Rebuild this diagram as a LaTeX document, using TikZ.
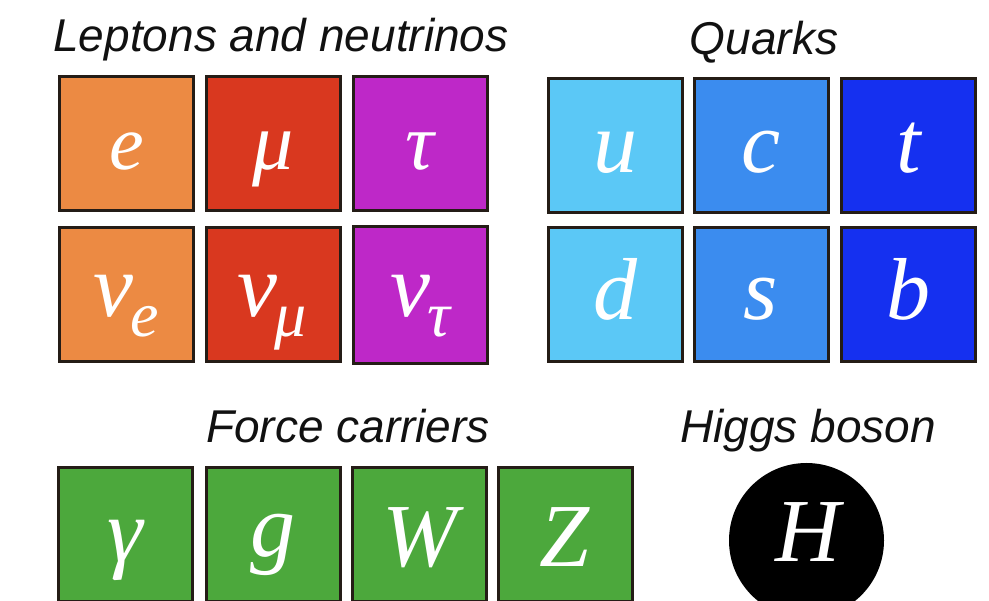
\documentclass[tikz,border=0pt]{standalone}
\usepackage{fontspec}
\setsansfont{Liberation Sans}
\newfontfamily\symfont{Liberation Serif}
\definecolor{edge}{HTML}{241C16}
\definecolor{titlecol}{HTML}{111111}
\definecolor{lepE}{HTML}{EC8A43}
\definecolor{lepMu}{HTML}{D9381F}
\definecolor{lepTau}{HTML}{BE28C8}
\definecolor{qU}{HTML}{5BC8F6}
\definecolor{qC}{HTML}{3B8CEF}
\definecolor{qT}{HTML}{1530F0}
\definecolor{boson}{HTML}{4CA83C}
\tikzset{
  pbox/.style={draw=edge, line width=3pt, minimum width=134pt, minimum height=134pt,
               inner sep=0pt, outer sep=0pt},
  title/.style={anchor=base, inner sep=0pt, text=titlecol,
                font=\fontsize{46}{46}\selectfont\sffamily\itshape},
  sym/.style={anchor=base, inner sep=0pt, text=white,
              font=\fontsize{#1}{#1}\selectfont\symfont\itshape},
  sym/.default=86
}
\newcommand{\nusub}[1]{{\fontsize{90}{90}\selectfont ν}\kern-3pt\raisebox{-20pt}{\fontsize{64}{64}\selectfont #1}}
\begin{document}
\begin{tikzpicture}[x=1pt, y=-1pt]
\path[use as bounding box, clip] (0,0) rectangle (989,601);

% group titles
\node[title] (tLep) at (281,52) {Leptons and neutrinos};
\node[title] (tQrk) at (764,55) {Quarks};
\node[title] (tFrc) at (348,443) {Force carriers};
\node[title] (tHig) at (808,443) {Higgs boson};

% leptons and neutrinos
\node[pbox, fill=lepE]   (bE)    at (126.5,144) {};
\node[pbox, fill=lepMu]  (bMu)   at (273.5,144) {};
\node[pbox, fill=lepTau] (bTau)  at (420,144) {};
\node[pbox, fill=lepE]   (bNuE)  at (126.5,295) {};
\node[pbox, fill=lepMu]  (bNuMu) at (273.5,295) {};
\node[pbox, fill=lepTau, minimum height=137pt] (bNuTau) at (420,295) {};

\node[sym=78] (sE)   at (126.5,170) {e};
\node[sym=82] (sMu)  at (273.5,170) {μ};
\node[sym=80] (sTau) at (420,170) {τ};
\node[sym] (sNuE)   at (126.5,317) {\nusub{e}};
\node[sym] (sNuMu)  at (272,317)   {\nusub{μ}};
\node[sym] (sNuTau) at (420,317)   {\nusub{τ}};

% quarks
\node[pbox, fill=qU] (bU) at (615,146) {};
\node[pbox, fill=qC] (bC) at (761,146) {};
\node[pbox, fill=qT] (bT) at (908.5,146) {};
\node[pbox, fill=qU] (bD) at (615,295) {};
\node[pbox, fill=qC] (bS) at (761,295) {};
\node[pbox, fill=qT] (bB) at (908.5,295) {};

\node[sym=88] (sU) at (615,173)   {u};
\node[sym=88] (sC) at (761,173)   {c};
\node[sym=88] (sT) at (908.5,173) {t};
\node[sym=88] (sD) at (615,320)   {d};
\node[sym=88] (sS) at (761,320)   {s};
\node[sym=88] (sB) at (908.5,320) {b};

% force carriers
\node[pbox, fill=boson] (bGam) at (125.5,535) {};
\node[pbox, fill=boson] (bG)   at (273,535)   {};
\node[pbox, fill=boson] (bW)   at (419.5,535) {};
\node[pbox, fill=boson] (bZ)   at (565,535)   {};

\node[sym=90] (sGam) at (125.5,562) {γ};
\node[sym=90] (sG)   at (273,557)   {g};
\node[sym=90] (sW)   at (419.5,567) {W};
\node[sym=90] (sZ)   at (565,567)   {Z};

% Higgs boson
\node[circle, fill=black, minimum size=155pt, inner sep=0pt] (bH) at (806.5,540.5) {};
\node[sym=90] (sH) at (808,562) {H};
\end{tikzpicture}
\end{document}
